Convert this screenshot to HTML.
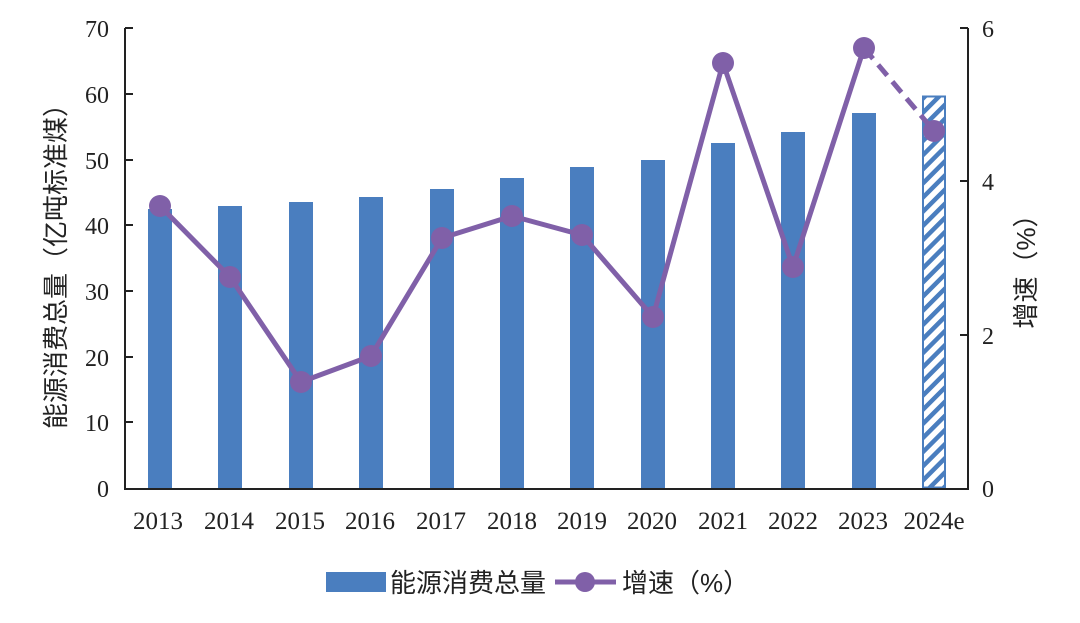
<!DOCTYPE html>
<html><head><meta charset="utf-8"><style>
html,body{margin:0;padding:0;background:#fff;}
svg{display:block;}
text{font-family:"Liberation Serif","Noto Serif CJK SC",serif;fill:#222;}
.cj{font-family:"Liberation Sans","Noto Sans CJK SC",sans-serif;}
</style></head><body>
<svg width="1080" height="623" viewBox="0 0 1080 623" xmlns="http://www.w3.org/2000/svg">
<defs>
<pattern id="h" patternUnits="userSpaceOnUse" width="10" height="10" patternTransform="rotate(45)">
<rect width="10" height="10" fill="#fff"/>
<rect width="4.5" height="10" fill="#4a7ebf"/>
</pattern>
</defs>
<g fill="#4a7ebf">
<rect x="148" y="209" width="24" height="279"/>
<rect x="218" y="206" width="24" height="282"/>
<rect x="289" y="202" width="24" height="286"/>
<rect x="359" y="197" width="24" height="291"/>
<rect x="430" y="189" width="24" height="299"/>
<rect x="500" y="178" width="24" height="310"/>
<rect x="570" y="167" width="24" height="321"/>
<rect x="641" y="160" width="24" height="328"/>
<rect x="711" y="143" width="24" height="345"/>
<rect x="781" y="132" width="24" height="356"/>
<rect x="852" y="113" width="24" height="375"/>
</g>
<rect x="923" y="96.5" width="22" height="391" fill="url(#h)" stroke="#4a7ebf" stroke-width="2"/>
<g stroke="#222" stroke-width="2" fill="none">
<path d="M125 28 V489 H968 V28"/>
<path d="M125 28h8 M125 94h8 M125 160h8 M125 225h8 M125 291h8 M125 357h8 M125 422h8"/>
<path d="M968 28h-8 M968 181h-8 M968 335h-8"/>
</g>
<g font-size="24" text-anchor="end">
<text x="109" y="37">70</text><text x="109" y="103">60</text><text x="109" y="169">50</text>
<text x="109" y="234">40</text><text x="109" y="300">30</text><text x="109" y="366">20</text>
<text x="109" y="431">10</text><text x="109" y="497">0</text>
</g>
<g font-size="24">
<text x="982" y="37">6</text><text x="982" y="190">4</text><text x="982" y="344">2</text><text x="982" y="497">0</text>
</g>
<g font-size="25" text-anchor="middle" textLength="55">
<text x="158" y="529">2013</text><text x="229" y="529">2014</text><text x="300" y="529">2015</text>
<text x="370" y="529">2016</text><text x="441" y="529">2017</text><text x="512" y="529">2018</text>
<text x="582" y="529">2019</text><text x="652" y="529">2020</text><text x="723" y="529">2021</text>
<text x="793" y="529">2022</text><text x="863" y="529">2023</text><text x="934" y="529">2024e</text>
</g>
<text class="cj" font-size="26" text-anchor="middle" transform="translate(65,260) rotate(-90)">能源消费总量（亿吨标准煤）</text>
<text class="cj" font-size="26" text-anchor="middle" transform="translate(1035,265) rotate(-90)">增速（%）</text>
<polyline fill="none" stroke="#8060a8" stroke-width="5" stroke-linejoin="round"
points="160,206 230,277 301,382 371,356 442,238 512,216 582,235 653,317 723,63 793,267 864,48"/>
<line x1="864" y1="48" x2="934" y2="131" stroke="#8060a8" stroke-width="5" stroke-dasharray="14,8"/>
<g fill="#8060a8">
<circle cx="160" cy="206" r="11"/><circle cx="230" cy="277" r="11"/><circle cx="301" cy="382" r="11"/>
<circle cx="371" cy="356" r="11"/><circle cx="442" cy="238" r="11"/><circle cx="512" cy="216" r="11"/>
<circle cx="582" cy="235" r="11"/><circle cx="653" cy="317" r="11"/><circle cx="723" cy="63" r="11"/>
<circle cx="793" cy="267" r="11"/><circle cx="864" cy="48" r="11"/><circle cx="934" cy="131" r="11"/>
</g>
<rect x="326" y="572" width="60" height="20" fill="#4a7ebf"/>
<text class="cj" x="390" y="592" font-size="26">能源消费总量</text>
<line x1="555" y1="582" x2="616" y2="582" stroke="#8060a8" stroke-width="5"/>
<circle cx="585" cy="582" r="10" fill="#8060a8"/>
<text class="cj" x="622" y="592" font-size="26">增速（%）</text>
</svg>
</body></html>
